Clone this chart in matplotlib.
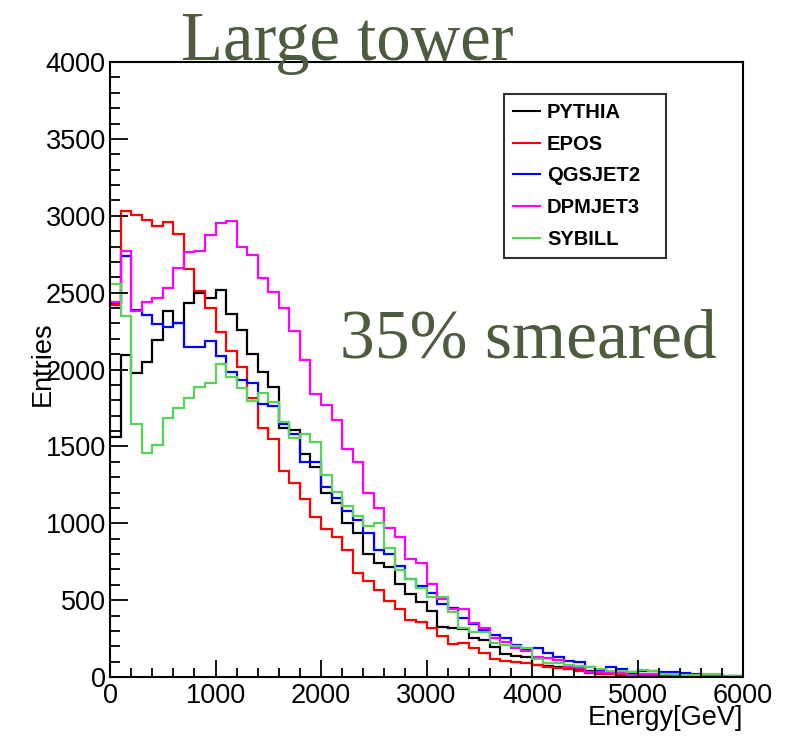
import numpy as np
import matplotlib
matplotlib.use("Agg")
import matplotlib.pyplot as plt
from matplotlib.ticker import MultipleLocator

# energy binning: 60 bins of 100 GeV
edges = np.arange(0, 6100, 100)

pythia = [1563, 2094, 1975, 2051, 2192, 2380, 2305, 2430, 2495, 2463,
          2517, 2363, 2257, 2101, 1986, 1884, 1622, 1606, 1450, 1368,
          1199, 1134, 1000, 935, 798, 744, 718, 605, 540, 490,
          430, 327, 317, 315, 252, 241, 197, 147, 137, 128,
          78, 72, 63, 54, 50, 41, 28, 24, 20, 17,
          14, 12, 10, 9, 7, 6, 5, 4, 3, 3]
epos = [2420, 3033, 3005, 2972, 2935, 2957, 2879, 2651, 2511, 2398,
        2242, 2122, 2019, 1812, 1622, 1546, 1342, 1264, 1158, 1039,
        963, 913, 826, 678, 627, 566, 494, 440, 373, 355,
        317, 268, 213, 224, 187, 156, 119, 105, 100, 92,
        78, 67, 60, 50, 41, 28, 20, 17, 16, 14,
        12, 10, 9, 7, 6, 5, 4, 3, 3, 2]
qgsjet2 = [2430, 2740, 2390, 2354, 2296, 2274, 2300, 2144, 2144, 2185,
           2088, 1986, 1932, 1910, 1773, 1765, 1648, 1578, 1398, 1398,
           1234, 1162, 1080, 1021, 935, 826, 800, 725, 637, 594,
           548, 478, 449, 382, 345, 308, 273, 252, 205, 176,
           187, 154, 128, 104, 95, 63, 46, 63, 52, 35,
           39, 37, 35, 33, 26, 22, 15, 12, 8, 6]
dpmjet3 = [2441, 2773, 2380, 2441, 2467, 2530, 2658, 2766, 2773, 2875,
           2955, 2968, 2799, 2744, 2597, 2506, 2398, 2252, 2062, 1841,
           1772, 1671, 1484, 1400, 1195, 1097, 971, 910, 766, 741,
           605, 510, 442, 442, 353, 317, 252, 226, 187, 171,
           132, 121, 111, 63, 56, 35, 35, 24, 24, 13,
           20, 18, 20, 15, 12, 10, 8, 9, 9, 7]
sybill = [2554, 2348, 1646, 1459, 1509, 1683, 1748, 1812, 1888, 1910,
          2034, 1953, 1877, 1795, 1845, 1791, 1658, 1555, 1580, 1531,
          1314, 1205, 1114, 1047, 982, 1004, 841, 696, 640, 577,
          520, 522, 425, 317, 291, 291, 219, 208, 200, 187,
          115, 89, 89, 78, 74, 63, 50, 41, 41, 35,
          45, 42, 20, 20, 15, 15, 22, 20, 9, 9]

models = ["PYTHIA", "EPOS", "QGSJET2", "DPMJET3", "SYBILL"]
colors = ["black", "#ff0000", "#0000ff", "#ff00ff", "#58d258"]
series = [pythia, epos, qgsjet2, dpmjet3, sybill]

plt.rcParams['font.family'] = ['Liberation Sans', 'DejaVu Sans']

fig = plt.figure(figsize=(7.91, 7.4), dpi=100)
ax = fig.add_axes([110 / 791, 1 - 677 / 740, 633 / 791, 615 / 740])

for name, col, vals in zip(models, colors, series):
    ax.stairs(vals, edges, baseline=None, color=col, linewidth=1.6, label=name)

ax.set_xlim(0, 6000)
ax.set_ylim(0, 4000)

# ROOT-like axes: ticks inside, only on left and bottom
ax.xaxis.set_major_locator(MultipleLocator(1000))
ax.xaxis.set_minor_locator(MultipleLocator(200))
ax.yaxis.set_major_locator(MultipleLocator(500))
ax.yaxis.set_minor_locator(MultipleLocator(100))
ax.tick_params(axis='x', which='major', direction='in', length=12, width=1.3,
               labelsize=19.5, pad=4, top=False)
ax.tick_params(axis='x', which='minor', direction='in', length=6.5, width=1.3, top=False)
ax.tick_params(axis='y', which='major', direction='in', length=13, width=1.3,
               labelsize=19.5, pad=3, right=False)
ax.tick_params(axis='y', which='minor', direction='in', length=7, width=1.3, right=False)
for sp in ax.spines.values():
    sp.set_linewidth(1.5)

ax.set_xlabel("Energy[GeV]", fontsize=19.5, loc='right')
ax.xaxis.set_label_coords(1.0, -0.045)
ax.set_ylabel("Entries", fontsize=19.5)
ax.yaxis.set_label_coords(-0.085, 0.51)

# legend box spans a fixed width, entries stacked from the top
leg = ax.legend(loc='upper left', bbox_to_anchor=(0.622, 0.685, 0.256, 0.263),
                mode='expand', prop={'weight': 'bold', 'size': 14.5},
                frameon=True, fancybox=False, edgecolor='black',
                handlelength=1.35, handletextpad=0.35, labelspacing=0.63,
                borderpad=0.45, borderaxespad=0)
leg.get_frame().set_linewidth(1.5)
for h in leg.get_lines():
    h.set_linewidth(1.5)

# annotations
olive = "#4e5b3f"
fig.text(347 / 791, 1 - 60 / 740, "Large tower", family="Liberation Serif",
         fontsize=49.5, color=olive, ha='center', va='baseline')
fig.text(340 / 791, 1 - 357 / 740, "35% smeared", family="Liberation Serif",
         fontsize=50, color=olive, ha='left', va='baseline')

fig.savefig("out.png", dpi=100)
